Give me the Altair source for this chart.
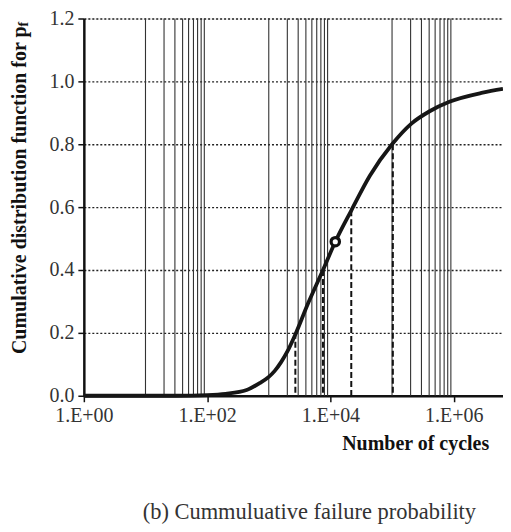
import altair as alt
import pandas as pd

# Curve
cycles = [1, 31.6, 100, 200, 437, 708, 1000, 1259, 1585, 1995, 2630, 4365, 7585,
          12000, 21900, 43650, 100000, 204000, 407000, 851000, 2950000, 6300000]
cdf = [0.0, 0.0, 0.002, 0.006, 0.018, 0.04, 0.06, 0.08, 0.107, 0.14, 0.19, 0.295,
       0.40, 0.49, 0.59, 0.70, 0.80, 0.865, 0.905, 0.935, 0.964, 0.976]

# Dashed drop lines
drop_cycles = [2700, 7570, 21800, 103000]
drop_cdf = [0.20, 0.40, 0.59, 0.80]

# Marked point
pt_cycles = [12000]
pt_cdf = [0.49]

# Vertical grid lines (minor gridlines of alternate decades)
grid_cycles = [k * 10 ** n for n in (1, 3, 5) for k in range(1, 10)]

x_ticks = [1, 100, 10000, 1000000]
y_ticks = [0.0, 0.2, 0.4, 0.6, 0.8, 1.0, 1.2]

caption = "(b) Cummuluative failure probability"
y_title = "Cumulative distribution function for p"
y_title_sub = "f"
x_title = "Number of cycles"

FONT = "Liberation Serif"
XMAX = 10 ** 6.8
H = 378

xscale = alt.Scale(type="log", domain=[1, XMAX], nice=False)
yscale = alt.Scale(domain=[0, 1.2], nice=False)

xaxis = alt.Axis(values=x_ticks, labelExpr="'1.E+0' + round(log(datum.value)/LN10)",
                 grid=False, title=x_title, titleFont=FONT, titleFontWeight="bold",
                 titleFontSize=20, titleColor="#111", titleX=332, titleY=48,
                 titleBaseline="middle", titleAnchor="middle",
                 labelFont=FONT, labelFontSize=20, labelColor="#333", labelPadding=4,
                 tickSize=6, tickColor="#111", tickWidth=1.5,
                 domainColor="#111", domainWidth=2.5, labelFlush=False)
yaxis = alt.Axis(values=y_ticks, format=".1f", grid=True, gridDash=[2, 2],
                 gridColor="#222", gridWidth=1.3, title=None,
                 labelFont=FONT, labelFontSize=20, labelColor="#333", labelPadding=4,
                 tickSize=6, tickColor="#111", tickWidth=1.5,
                 domainColor="#111", domainWidth=2.5)

curve_df = pd.DataFrame({"cycles": cycles, "cdf": cdf})
drop_df = pd.DataFrame({"cycles": drop_cycles, "cdf": drop_cdf})
pt_df = pd.DataFrame({"cycles": pt_cycles, "cdf": pt_cdf})
grid_df = pd.DataFrame({"cycles": grid_cycles})

base_axes = alt.Chart(curve_df).mark_line(opacity=0).encode(
    x=alt.X("cycles:Q", scale=xscale, axis=xaxis),
    y=alt.Y("cdf:Q", scale=yscale, axis=yaxis),
)

vgrid = alt.Chart(grid_df).mark_rule(color="#333", strokeWidth=1.1).encode(
    x=alt.X("cycles:Q", scale=xscale),
    y=alt.value(0), y2=alt.value(H),
)

drops = alt.Chart(drop_df).mark_rule(color="#111", strokeWidth=2, strokeDash=[6, 3]).encode(
    x=alt.X("cycles:Q", scale=xscale),
    y=alt.Y("cdf:Q", scale=yscale), y2=alt.datum(0),
)

curve = alt.Chart(curve_df).mark_line(color="#161616", strokeWidth=3.8,
                                      interpolate="monotone").encode(
    x=alt.X("cycles:Q", scale=xscale),
    y=alt.Y("cdf:Q", scale=yscale),
)

point = alt.Chart(pt_df).mark_point(shape="circle", size=70, filled=False,
                                    stroke="#111", strokeWidth=3.2, fill="white",
                                    fillOpacity=1, opacity=1).encode(
    x=alt.X("cycles:Q", scale=xscale),
    y=alt.Y("cdf:Q", scale=yscale),
)

ytitle = alt.Chart(pd.DataFrame({"t": [y_title]})).mark_text(
    angle=270, align="right", baseline="middle", font=FONT, fontWeight="bold",
    fontSize=20, color="#111").encode(
    x=alt.value(-64), y=alt.value(8), text="t:N")

ytitle_sub = alt.Chart(pd.DataFrame({"t": [y_title_sub]})).mark_text(
    angle=270, align="left", baseline="middle", font=FONT, fontWeight="bold",
    fontSize=14, color="#111").encode(
    x=alt.value(-60), y=alt.value(8), text="t:N")

cap = alt.Chart(pd.DataFrame({"t": [caption]})).mark_text(
    align="center", baseline="alphabetic", font=FONT, fontSize=22.5, color="#333").encode(
    x=alt.value(226), y=alt.value(502), text="t:N")

chart = alt.layer(base_axes, vgrid, drops, curve, point, ytitle, ytitle_sub, cap).properties(
    width=420, height=H,
    autosize=alt.AutoSizeParams(type="none"),
    padding={"left": 76, "top": 10, "right": 0, "bottom": 132},
).configure_view(stroke=None).configure(background="white")

chart.save("out.html", embed_options={"renderer": "svg", "actions": False})
